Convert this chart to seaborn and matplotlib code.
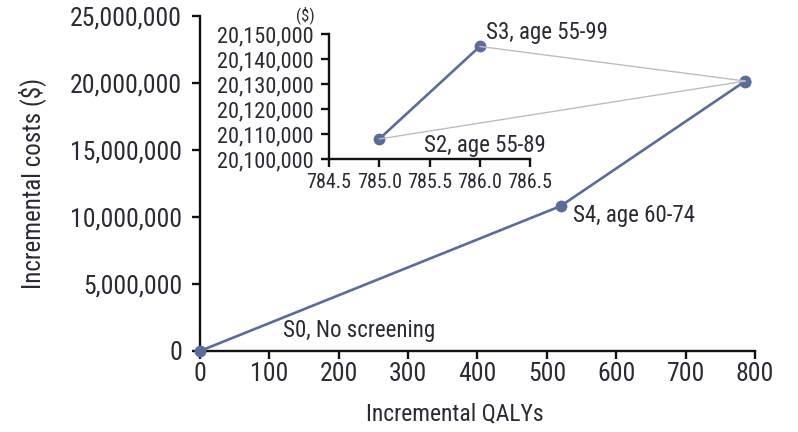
import numpy as np
import pandas as pd
import matplotlib
matplotlib.use("Agg")
import matplotlib.pyplot as plt
from matplotlib.ticker import FuncFormatter
from matplotlib.patches import ConnectionPatch
from matplotlib import font_manager
import seaborn as sns

# Strategies: incremental QALYs and incremental costs ($)
strategies = ["S0, No screening", "S4, age 60-74", "S2, age 55-89", "S3, age 55-99"]
qalys = [0.0, 520.0, 785.0, 786.0]
costs = [0.0, 10_820_000.0, 20_108_000.0, 20_145_000.0]

main_xticks = [0, 100, 200, 300, 400, 500, 600, 700, 800]
main_yticks = [0, 5_000_000, 10_000_000, 15_000_000, 20_000_000, 25_000_000]
inset_xticks = [784.5, 785.0, 785.5, 786.0, 786.5]
inset_yticks = [20_100_000, 20_110_000, 20_120_000, 20_130_000, 20_140_000, 20_150_000]

df = pd.DataFrame({"strategy": strategies, "qalys": qalys, "costs": costs})
inset_df = df[df["strategy"].isin(["S2, age 55-89", "S3, age 55-99"])]

sns.set_style("white")
names = {f.name for f in font_manager.fontManager.ttflist}
narrow = [n for n in ["Liberation Sans Narrow", "Roboto Condensed", "Open Sans Condensed",
                      "DejaVu Sans Condensed"] if n in names]
plt.rcParams["font.family"] = narrow + ["DejaVu Sans"]
plt.rcParams["font.stretch"] = "condensed"

line_color = "#5a6c9c"
text_color = "#2a2a35"
axis_color = "#111111"

fig = plt.figure(figsize=(7.98, 4.32), dpi=100)
ax = fig.add_axes([0.2506, 0.1875, 0.6955, 0.7755])

sns.lineplot(data=df, x="qalys", y="costs", ax=ax, sort=False, color=line_color,
             linewidth=1.9, marker="o", markersize=8.5, markeredgewidth=0,
             zorder=3)

ax.set_xlim(0, 800)
ax.set_ylim(0, 25_000_000)
ax.set_xticks(main_xticks)
ax.set_yticks(main_yticks)
ax.yaxis.set_major_formatter(FuncFormatter(lambda v, p: f"{int(v):,}"))
ax.set_xlabel("Incremental QALYs", fontsize=17, color=text_color, va="center")
ax.set_ylabel("Incremental costs ($)", fontsize=18, color=text_color, va="center")
ax.xaxis.set_label_coords(0.459, -0.188)
ax.yaxis.set_label_coords(-0.303, 0.5)
ax.tick_params(axis="both", direction="out", length=6, width=1.7,
               bottom=True, left=True,
               labelsize=18.5, labelcolor=text_color, color=axis_color)
ax.tick_params(axis="y", pad=7)
ax.tick_params(axis="x", pad=2)
for side in ["top", "right"]:
    ax.spines[side].set_visible(False)
for side in ["left", "bottom"]:
    ax.spines[side].set_linewidth(1.7)
    ax.spines[side].set_color(axis_color)
for ln in ax.lines:
    ln.set_clip_on(False)

ax.annotate(strategies[0], xy=(qalys[0], costs[0]), xytext=(60, 14.4),
            textcoords="offset points", ha="left", va="center",
            fontsize=16.5, color=text_color)
ax.annotate(strategies[1], xy=(qalys[1], costs[1]), xytext=(8.6, -6.5),
            textcoords="offset points", ha="left", va="center",
            fontsize=16.5, color=text_color)

# Inset: zoom on the two strategies near 786 QALYs
axin = fig.add_axes([0.4123, 0.632, 0.2519, 0.2894])
axin.patch.set_alpha(0)
sns.lineplot(data=inset_df, x="qalys", y="costs", ax=axin, sort=False,
             color=line_color, linewidth=1.9, marker="o", markersize=8.5,
             markeredgewidth=0, zorder=3)
axin.set_xlim(784.5, 786.5)
axin.set_ylim(20_100_000, 20_150_000)
axin.set_xticks(inset_xticks)
axin.set_yticks(inset_yticks)
axin.xaxis.set_major_formatter(FuncFormatter(lambda v, p: f"{v:.1f}"))
axin.yaxis.set_major_formatter(FuncFormatter(lambda v, p: f"{int(round(v)):,}"))
axin.set_xlabel("")
axin.set_ylabel("")
axin.tick_params(axis="both", direction="out", length=6, width=1.7,
                 bottom=True, left=True, labelcolor=text_color, color=axis_color)
axin.tick_params(axis="y", pad=5, labelsize=16)
axin.tick_params(axis="x", pad=4, labelsize=14.5)
for side in ["top", "right"]:
    axin.spines[side].set_visible(False)
for side in ["left", "bottom"]:
    axin.spines[side].set_linewidth(1.7)
    axin.spines[side].set_color(axis_color)
for ln in axin.lines:
    ln.set_clip_on(False)
axin.text(-0.119, 1.152, "($)", transform=axin.transAxes, ha="center",
          va="center", fontsize=12, color=text_color)

axin.annotate(strategies[3], xy=(qalys[3], costs[3]), xytext=(4.3, 10),
              textcoords="offset points", ha="left", va="center",
              fontsize=16.5, color=text_color)
axin.annotate(strategies[2], xy=(qalys[2], costs[2]), xytext=(32.4, -5),
              textcoords="offset points", ha="left", va="center",
              fontsize=16.5, color=text_color)

# Thin grey leaders from the inset points to their location on the main axes
for i in (2, 3):
    con = ConnectionPatch(xyA=(qalys[i], costs[i]), coordsA=axin.transData,
                          xyB=(qalys[3], costs[3]), coordsB=ax.transData,
                          color="#bdbdbd", linewidth=1.0, zorder=1)
    fig.add_artist(con)

fig.savefig("out.png", dpi=100)
